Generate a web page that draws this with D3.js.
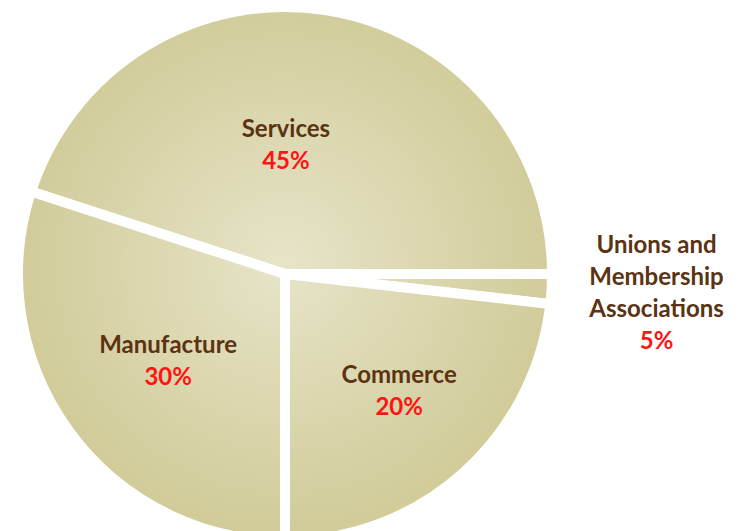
<!DOCTYPE html>
<html lang="en">
<head>
    <meta charset="UTF-8">
    <title>Sector shares</title>
    <script src="https://cdn.jsdelivr.net/npm/d3@7"></script>
    <style>
        body { margin: 0; background: #fff; overflow: hidden; }
        svg { display: block; }
        .name { fill: #5b3312; font-family: Lato, "Open Sans", sans-serif; font-weight: 700; font-size: 24px; }
        .pct { fill: #ff1414; font-family: Lato, "Open Sans", sans-serif; font-weight: 700; font-size: 24px; }
    </style>
</head>
<body>
    <svg></svg>
    <script>
        // slices in drawing order, clockwise from the Services/Manufacture cut
        const categories = ["Services", "Unions and Membership Associations", "Commerce", "Manufacture"];
        const nameLines = [["Services"], ["Unions and", "Membership", "Associations"], ["Commerce"], ["Manufacture"]];
        // share of the circle as the slices are drawn in the picture
        const sliceShares = [45, 1.8, 23.2, 30];
        // percentages as printed on the labels
        const percentLabels = ["45%", "5%", "20%", "30%"];

        const width = 742;
        const height = 531;
        const cx = 285, cy = 274;
        const radius = 267;      // white 10px outline leaves ~262 visible
        const startDeg = -72;

        // where each label block sits (distance from centre, turn from slice middle)
        const labelRadius = [130, 372, 163, 145];
        const labelTurn = [-8.6, -0.4, -2.7, -0.3];

        const svg = d3.select("svg")
            .attr("width", width)
            .attr("height", height);

        // one radial fill for the whole pie, in the pie group's coordinates
        const grad = svg.append("defs").append("radialGradient")
            .attr("id", "fillGrad")
            .attr("gradientUnits", "userSpaceOnUse")
            .attr("cx", 0).attr("cy", -10).attr("r", 262);
        grad.append("stop").attr("offset", "0%").attr("stop-color", "#e7e4c9");
        grad.append("stop").attr("offset", "100%").attr("stop-color", "#d1cc9a");

        const pie = d3.pie()
            .sort(null)
            .value(d => d)
            .startAngle(startDeg * Math.PI / 180)
            .endAngle(startDeg * Math.PI / 180 + 2 * Math.PI);

        const arc = d3.arc().innerRadius(0).outerRadius(radius);

        const arcs = pie(sliceShares);

        const g = svg.append("g").attr("transform", `translate(${cx},${cy})`);

        g.selectAll(".slice")
            .data(arcs)
            .enter().append("path")
            .attr("class", "slice")
            .attr("d", arc)
            .attr("fill", "url(#fillGrad)")
            .attr("stroke", "#fff")
            .attr("stroke-width", 10)
            .attr("stroke-linejoin", "miter");

        const lineGap = 32;

        arcs.forEach((a, i) => {
            const mid = (a.startAngle + a.endAngle) / 2 + labelTurn[i] * Math.PI / 180;
            const x = Math.sin(mid) * labelRadius[i];
            const y = -Math.cos(mid) * labelRadius[i];
            const lines = nameLines[i].map(t => ({ t, cls: "name" }))
                .concat([{ t: percentLabels[i], cls: "pct" }]);
            const top = y - (lines.length - 1) * lineGap / 2;
            lines.forEach((ln, k) => {
                g.append("text")
                    .attr("class", ln.cls)
                    .attr("text-anchor", "middle")
                    .attr("x", x)
                    .attr("y", top + k * lineGap + 9)
                    .text(ln.t);
            });
        });
    </script>
</body>
</html>
